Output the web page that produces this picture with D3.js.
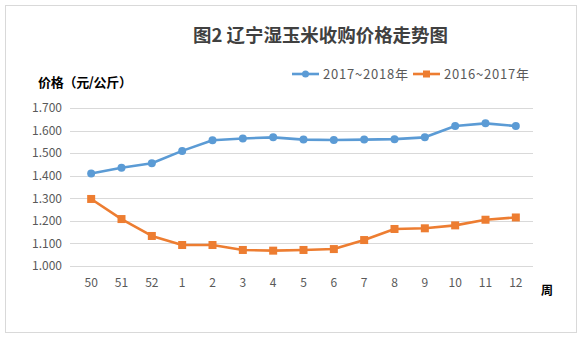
<!DOCTYPE html>
<html><head><meta charset="utf-8">
<script src="https://cdn.jsdelivr.net/npm/d3@7"></script>
<style>body{margin:0;background:#fff;}svg{display:block;}</style>
</head><body>
<svg id="c" width="583" height="339"></svg>
<script>
const weeks = ["50","51","52","1","2","3","4","5","6","7","8","9","10","11","12"];
const s2017 = [1.410,1.435,1.455,1.510,1.557,1.565,1.570,1.560,1.558,1.560,1.562,1.570,1.620,1.632,1.620];
const s2016 = [1.297,1.208,1.133,1.093,1.093,1.071,1.068,1.071,1.075,1.115,1.164,1.167,1.180,1.205,1.215];
const yTicks = [1.0,1.1,1.2,1.3,1.4,1.5,1.6,1.7];
const seriesNames = ["2017~2018年","2016~2017年"];
const colors = ["#5B9BD5","#ED7D31"];

const svg = d3.select("#c");
const font = "'Noto Sans CJK SC', 'Noto Sans', sans-serif";
svg.append("rect").attr("x",5.5).attr("y",5.5).attr("width",571).attr("height",327)
  .attr("fill","#fff").attr("stroke","#d9d9d9");

const x = d3.scaleBand().domain(weeks).range([76,531]);
const y = d3.scaleLinear().domain([1.0,1.7]).range([266,108]);

// grid
svg.append("g").selectAll("line").data(yTicks).join("line")
  .attr("x1",70).attr("x2",533).attr("y1",d=>Math.round(y(d))+0.5).attr("y2",d=>Math.round(y(d))+0.5)
  .attr("stroke","#d9d9d9").attr("stroke-width",1);

const yAxis = svg.append("g").attr("transform","translate(62,0)")
  .call(d3.axisLeft(y).tickValues(yTicks).tickFormat(d3.format(",.3f")).tickSize(0).tickPadding(0));
yAxis.select(".domain").remove();
yAxis.selectAll("text").attr("fill","#595959").style("font-family",font).style("font-size","12px");

const xAxis = svg.append("g").attr("transform","translate(0,275)")
  .call(d3.axisBottom(x).tickSize(0).tickPadding(3));
xAxis.select(".domain").remove();
xAxis.selectAll("text").attr("fill","#595959").style("font-family",font).style("font-size","12px");

const cx = d => x(d) + x.bandwidth()/2;
const line = d3.line().x((d,i)=>cx(weeks[i])).y(d=>y(d));

[s2017,s2016].forEach((s,k)=>{
  svg.append("path").datum(s).attr("d",line).attr("fill","none")
    .attr("stroke",colors[k]).attr("stroke-width",2.6).attr("stroke-linejoin","round");
});
svg.append("g").selectAll("circle").data(s2017).join("circle")
  .attr("cx",(d,i)=>cx(weeks[i])).attr("cy",d=>y(d)).attr("r",4).attr("fill",colors[0]);
svg.append("g").selectAll("rect").data(s2016).join("rect")
  .attr("x",(d,i)=>cx(weeks[i])-4).attr("y",d=>y(d)-4).attr("width",8).attr("height",8).attr("fill",colors[1]);

// title
svg.append("text").attr("x",193).attr("y",42)
  .attr("textLength",255).attr("lengthAdjust","spacingAndGlyphs")
  .style("font-family",font).style("font-size","18px").style("font-weight","bold").attr("fill","#404040")
  .text("图2 辽宁湿玉米收购价格走势图");
svg.append("text").attr("x",38).attr("y",87)
  .attr("textLength",94)
  .style("font-family",font).style("font-size","13px").style("font-weight","bold").attr("fill","#000")
  .text("价格（元/公斤）");
svg.append("text").attr("x",547).attr("y",295).attr("text-anchor","middle")
  .style("font-family",font).style("font-size","12px").style("font-weight","bold").attr("fill","#000")
  .text("周");

// legend
const lg = [{x:292,tx:323},{x:413,tx:444}];
lg.forEach((p,k)=>{
  const g = svg.append("g");
  g.append("line").attr("x1",p.x).attr("x2",p.x+27).attr("y1",74).attr("y2",74)
    .attr("stroke",colors[k]).attr("stroke-width",2.6);
  if(k===0) g.append("circle").attr("cx",p.x+13.5).attr("cy",74).attr("r",3.5).attr("fill",colors[0]);
  else g.append("rect").attr("x",p.x+10).attr("y",70.5).attr("width",7).attr("height",7).attr("fill",colors[1]);
  g.append("text").attr("x",p.tx).attr("y",79).attr("textLength",85)
    .style("font-family",font).style("font-size","13px")
    .attr("fill","#595959").text(seriesNames[k]);
});
</script>
</body></html>
